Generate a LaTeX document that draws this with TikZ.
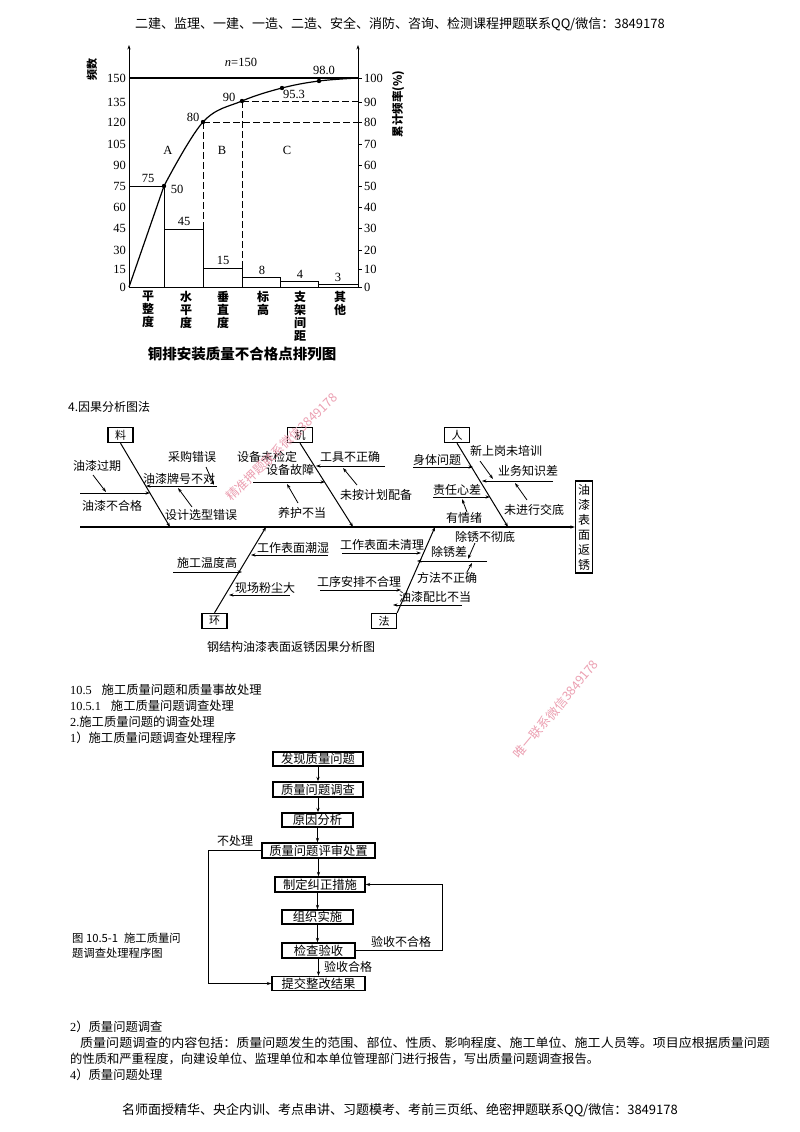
\documentclass[tikz,border=0pt]{standalone}
\usepackage{fontspec}
\setmainfont{Liberation Serif}
\newfontfamily\cjk{Noto Sans CJK SC}
\usetikzlibrary{arrows.meta}
\definecolor{wmc}{RGB}{236,160,178}
\begin{document}
\begin{tikzpicture}[x=1pt,y=-1pt,
  cn/.style={font=\cjk\fontsize{12}{14}\selectfont, inner sep=0pt},
  txt/.style={font=\cjk\fontsize{12.3}{14}\selectfont, inner sep=0pt},
  hf/.style={font=\cjk\fontsize{13}{15}\selectfont, inner sep=0pt},
  num/.style={font=\fontsize{12.5}{14}\selectfont, inner sep=0pt},
  cat/.style={font=\cjk\bfseries\fontsize{12}{13}\selectfont, inner sep=0pt, align=center, anchor=north},
  arr/.style={-{Stealth[length=4.5pt,width=3.2pt]}},
  pl/.style={line width=1pt},
  fb/.style={line width=0.8pt},
  rib/.style={line width=1pt},
  fbox/.style={draw, line width=1.3pt, minimum width=25pt, minimum height=15pt, inner sep=0pt, font=\cjk\fontsize{11}{13}\selectfont},
  flowbox/.style={draw, line width=1.4pt, inner sep=0pt, font=\cjk\fontsize{12.3}{14}\selectfont},
  wm/.style={text=wmc, font=\cjk\fontsize{12.5}{14}\selectfont, inner sep=0pt}
]
\fill[white] (0,0) rectangle (800,1132);
\useasboundingbox (0,0) rectangle (800,1132);

% header
\node[hf] (hdr) at (400,24) {二建、监理、一建、一造、二造、安全、消防、咨询、检测课程押题联系QQ/微信：3849178};

% ================= Pareto chart =================
\coordinate (O) at (129,287);
\coordinate (R0) at (358,287);
\coordinate (Ltop) at (129,45);
\coordinate (Rtop) at (358,45);
\draw[pl,arr] (O) -- (Ltop);
\draw[pl,arr] (R0) -- (Rtop);
\draw[pl] (O) -- (R0);
\draw[line width=1.3pt] (129,78) -- (358,78);
\foreach \v/\y in {150/78,135/102,120/122,105/144,90/165,75/186,60/207,45/228,30/250,15/269,0/287}
  \node[num,anchor=east] (l\v) at (126,\y) {\v};
\foreach \p/\y in {100/78,90/102,80/122,70/144,60/165,50/186,40/207,30/228,20/250,10/269,0/287}{
  \draw[pl] (358,\y) -- (362,\y);
  \node[num,anchor=west] (r\p) at (364,\y) {\p};
}
\node[font=\cjk\bfseries\fontsize{11}{13}\selectfont, inner sep=0pt, rotate=90] (ylab) at (92,70) {频数};
\node[font=\cjk\bfseries\fontsize{11.5}{13}\selectfont, inner sep=0pt, rotate=90] (y2lab) at (398,104) {累计频率(\%)};
% bars
\draw[pl] (129,186) -- (164,186) -- (164,287);
\draw[pl] (164,229) rectangle (203,287);
\draw[pl] (203,268) rectangle (242,287);
\draw[pl] (242,277) rectangle (280,287);
\draw[pl] (280,281) rectangle (318,287);
\draw[pl] (318,284) rectangle (358,287);
% dashed
\draw[pl,dash pattern=on 7pt off 3pt] (203,122) -- (203,287);
\draw[pl,dash pattern=on 7pt off 3pt] (242,101) -- (242,287);
\draw[pl,dash pattern=on 7pt off 3pt] (203,122) -- (358,122);
\draw[pl,dash pattern=on 7pt off 3pt] (242,101) -- (358,101);
% curve
\draw[line width=1.2pt] (O) -- (164,186) -- plot[smooth,tension=0.6] coordinates {(164,186) (203,122) (242,101) (282,88) (319,81) (358,78)};
\foreach \x/\y [count=\i] in {164/186,203/122,242/101,282/88,319/81}
  \fill (\x,\y) circle (2.2pt) coordinate (d\i);
% value labels
\node[num] (v75) at (148,178) {75};
\node[num] (v50) at (177,189) {50};
\node[num] (v45) at (184,221) {45};
\node[num] (v15) at (223,260) {15};
\node[num] (v8) at (262,270) {8};
\node[num] (v4) at (300,274) {4};
\node[num] (v3) at (338,277) {3};
\node[num] (v80) at (193,117) {80};
\node[num] (v90) at (229,97) {90};
\node[num] (v953) at (294,94) {95.3};
\node[num] (v980) at (324,70) {98.0};
\node[num] (nlab) at (241,62) {\textit{n}=150};
\node[num] (A) at (168,150) {A};
\node[num] (B) at (222,150) {B};
\node[num] (C) at (287,150) {C};
% categories
\node[cat] (c1) at (148,291) {平\\整\\度};
\node[cat] (c2) at (186,291) {水\\平\\度};
\node[cat] (c3) at (223,291) {垂\\直\\度};
\node[cat] (c4) at (263,291) {标\\高};
\node[cat] (c5) at (300,291) {支\\架\\间\\距};
\node[cat] (c6) at (340,291) {其\\他};
\node[font=\cjk\bfseries\fontsize{14.5}{16}\selectfont, inner sep=0pt] (pcap) at (242,354) {铜排安装质量不合格点排列图};

% ================= Fishbone =================
\node[cn,anchor=west] (fh) at (68,407) {4.因果分析图法};
\node[draw, line width=1.3pt, minimum width=17pt, minimum height=92pt, align=center, font=\cjk\fontsize{12}{15}\selectfont, inner sep=0pt] (eff) at (584,527) {油\\漆\\表\\面\\返\\锈};
\coordinate (sp0) at (80,527);
\draw[line width=1.3pt,arr] (sp0) -- (eff.west);
% category boxes
\node[fbox] (liao) at (120.5,435) {料};
\node[fbox] (ji) at (300,435) {机};
\node[fbox] (ren) at (457,435) {人};
\node[fbox] (huan) at (214.5,621) {环};
\node[fbox] (fa) at (384,621) {法};
\coordinate (liaoE) at (170,527);
\coordinate (jiE) at (353,527);
\coordinate (renE) at (508,527);
\coordinate (huanE) at (266,527);
\coordinate (faE) at (435,527);
\draw[rib,arr] (liao.south) -- (liaoE);
\draw[rib,arr] (ji.south) -- (jiE);
\draw[rib,arr] (ren.south) -- (renE);
\draw[rib,arr] (huan.north) -- (huanE);
\draw[rib,arr] (fa.north east) -- (faE);
% 料
\node[cn] (t1) at (112,506) {油漆不合格};
\draw[fb,arr] (80,493) -- (150,493);
\node[cn] (t2) at (97,466) {油漆过期};
\draw[fb,arr] (93,475) -- (106,492);
\node[cn] (t3) at (179,479) {油漆牌号不对};
\draw[fb,arr] (217,486) -- (146,486);
\node[cn] (t4) at (192,457) {采购错误};
\draw[fb,arr] (206,467) -- (214,485);
\node[cn] (t5) at (201,515) {设计选型错误};
\draw[fb,arr] (192,507) -- (178,488);
% 机
\node[cn] (t6) at (267,457) {设备未检定};
\node[cn] (t7) at (290,470) {设备故障};
\draw[fb,arr] (253,482) -- (325,482);
\node[cn] (t8) at (302,513) {养护不当};
\draw[fb,arr] (298,503) -- (287,484);
\node[cn] (t9) at (350,457) {工具不正确};
\draw[fb,arr] (385,466) -- (316,466);
\node[cn] (t10) at (376,495) {未按计划配备};
\draw[fb,arr] (357,485) -- (343,468);
% 人
\node[cn] (t11) at (437,460) {身体问题};
\draw[fb,arr] (413,467) -- (473,467);
\node[cn] (t12) at (506,451) {新上岗未培训};
\node[cn] (t13) at (528,471) {业务知识差};
\draw[fb,arr] (553,481) -- (482,481);
\draw[fb,arr] (480,461) -- (493,479);
\node[cn] (t14) at (534,510) {未进行交底};
\draw[fb,arr] (527,500) -- (515,483);
\node[cn] (t15) at (457,490) {责任心差};
\draw[fb,arr] (433,497) -- (490,497);
\node[cn] (t16) at (464,518) {有情绪};
\draw[fb,arr] (467,512) -- (462,499);
% 环
\node[cn] (t17) at (293,548) {工作表面潮湿};
\draw[fb,arr] (328,555) -- (251,555);
\node[cn] (t18) at (207,563) {施工温度高};
\draw[fb,arr] (173,572) -- (242,572);
\node[cn] (t19) at (265,588) {现场粉尘大};
\draw[fb,arr] (290,595) -- (229,595);
% 法
\node[cn] (t20) at (382,545) {工作表面未清理};
\draw[fb,arr] (342,553) -- (421,553);
\node[cn] (t21) at (485,537) {除锈不彻底};
\node[cn] (t22) at (449,552) {除锈差};
\draw[fb,arr] (487,561) -- (417,561);
\draw[fb,arr] (475,543) -- (468,559);
\node[cn] (t23) at (447,578) {方法不正确};
\draw[fb,arr] (467,572) -- (472,563);
\node[cn] (t24) at (359,582) {工序安排不合理};
\draw[fb,arr] (320,590) -- (401,590);
\node[cn] (t25) at (435,597) {油漆配比不当};
\draw[fb,arr] (462,605) -- (393,605);
\node[cn] (fcap) at (291,647) {钢结构油漆表面返锈因果分析图};

% watermarks
\node[wm, rotate=44] (wm1) at (282,447) {精准押题联系微信3849178};
\node[wm, rotate=50] (wm2) at (556,709) {唯一联系微信3849178};

% ================= Section text =================
\node[txt,anchor=west] (s1) at (70,690) {{\rmfamily 10.5}\hspace{10pt}施工质量问题和质量事故处理};
\node[txt,anchor=west] (s2) at (70,706) {{\rmfamily 10.5.1}\hspace{10pt}施工质量问题调查处理};
\node[txt,anchor=west] (s3) at (70,722) {{\rmfamily 2.}施工质量问题的调查处理};
\node[txt,anchor=west] (s4) at (70,738) {{\rmfamily 1}）施工质量问题调查处理程序};

% ================= Flowchart =================
\node[flowbox, minimum width=90pt, minimum height=14pt] (f1) at (318,759) {发现质量问题};
\node[flowbox, minimum width=90pt, minimum height=15pt] (f2) at (318,789.5) {质量问题调查};
\node[flowbox, minimum width=71pt, minimum height=14pt] (f3) at (317.5,820) {原因分析};
\node[flowbox, minimum width=113pt, minimum height=15pt] (f4) at (318.5,850.5) {质量问题评审处置};
\node[flowbox, minimum width=90pt, minimum height=15pt] (f5) at (320,884.5) {制定纠正措施};
\node[flowbox, minimum width=71pt, minimum height=14pt] (f6) at (317.5,917) {组织实施};
\node[flowbox, minimum width=73pt, minimum height=15pt] (f7) at (318.5,950.5) {检查验收};
\node[flowbox, minimum width=93pt, minimum height=14pt] (f8) at (318.5,983.5) {提交整改结果};
\draw[fb,arr] (f1.south) -- (f1.south |- f2.north);
\draw[fb,arr] (f2.south) -- (f2.south |- f3.north);
\draw[fb,arr] (f3.south) -- (f3.south |- f4.north);
\draw[fb,arr] (f4.south) -- (f4.south |- f5.north);
\draw[fb,arr] (f6.north |- f5.south) -- (f6.north);
\draw[fb,arr] (f6.south) -- (f6.south |- f7.north);
\draw[fb,arr] (f7.south) -- (f7.south |- f8.north);
\coordinate (nl) at (208,850.5);
\coordinate (lr) at (442,950.5);
\draw[fb,arr] (f4.west) -- (nl) |- (f8.west);
\draw[fb,arr] (f7.east) -- (lr) |- (f5.east);
\node[cn] (l1) at (235,841) {不处理};
\node[cn] (l2) at (401,942) {验收不合格};
\node[cn] (l3) at (348,967) {验收合格};
\node[font=\cjk\fontsize{11.3}{15}\selectfont, inner sep=0pt, align=left, anchor=north west] (fcap2) at (72,933) {图 10.5-1\hspace{6pt}施工质量问\\题调查处理程序图};

% ================= Bottom text =================
\node[txt,anchor=west] (b1) at (70,1027) {{\rmfamily 2}）质量问题调查};
\node[txt,anchor=west,xscale=1.058] (b2) at (80,1043) {质量问题调查的内容包括：质量问题发生的范围、部位、性质、影响程度、施工单位、施工人员等。项目应根据质量问题};
\node[txt,anchor=west] (b3) at (70,1059) {的性质和严重程度，向建设单位、监理单位和本单位管理部门进行报告，写出质量问题调查报告。};
\node[txt,anchor=west] (b4) at (70,1075) {{\rmfamily 4}）质量问题处理};

% footer
\node[hf] (ftr) at (400,1110) {名师面授精华、央企内训、考点串讲、习题模考、考前三页纸、绝密押题联系QQ/微信：3849178};
\end{tikzpicture}
\end{document}
